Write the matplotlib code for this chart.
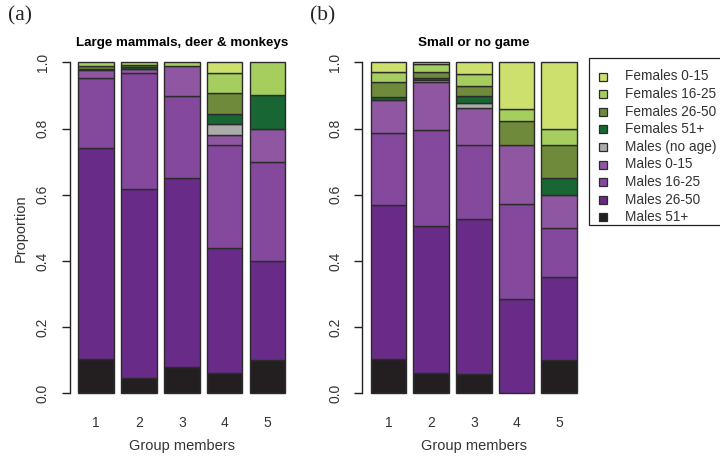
import matplotlib
matplotlib.use("Agg")
import matplotlib.pyplot as plt
from matplotlib.patches import Rectangle
import numpy as np

plt.rcParams['font.family'] = ['Liberation Sans', 'DejaVu Sans']

W, H = 720, 457

group_members = ["1", "2", "3", "4", "5"]

categories = ["Males 51+", "Males 26-50", "Males 16-25", "Males 0-15",
              "Males (no age)", "Females 51+", "Females 26-50",
              "Females 16-25", "Females 0-15"]
colors = ["#231F20", "#682B88", "#84489D", "#8F57A2", "#ABABAB",
          "#186633", "#6F8A3A", "#A6CE5E", "#CDDF6D"]

# (a) Large mammals, deer & monkeys: proportion of hunters per group size
big_m51 = [0.103, 0.045, 0.080, 0.0625, 0.10]
big_m26 = [0.637, 0.573, 0.571, 0.375, 0.30]
big_m16 = [0.212, 0.349, 0.247, 0.3125, 0.30]
big_m0 = [0.026, 0.014, 0.092, 0.03125, 0.10]
big_mna = [0.0, 0.0, 0.0, 0.03125, 0.0]
big_f51 = [0.003, 0.004, 0.0, 0.03125, 0.10]
big_f26 = [0.009, 0.008, 0.0, 0.0625, 0.0]
big_f16 = [0.010, 0.007, 0.010, 0.0625, 0.10]
big_f0 = [0.0, 0.0, 0.0, 0.03125, 0.0]

# (b) Small or no game
small_m51 = [0.105, 0.062, 0.058, 0.0, 0.10]
small_m26 = [0.465, 0.444, 0.469, 0.285, 0.25]
small_m16 = [0.217, 0.289, 0.223, 0.287, 0.15]
small_m0 = [0.099, 0.145, 0.111, 0.178, 0.10]
small_mna = [0.0, 0.006, 0.015, 0.0, 0.0]
small_f51 = [0.010, 0.007, 0.022, 0.0, 0.05]
small_f26 = [0.044, 0.019, 0.030, 0.073, 0.10]
small_f16 = [0.031, 0.022, 0.037, 0.035, 0.05]
small_f0 = [0.029, 0.006, 0.035, 0.142, 0.20]

big_game = [big_m51, big_m26, big_m16, big_m0, big_mna,
            big_f51, big_f26, big_f16, big_f0]
small_game = [small_m51, small_m26, small_m16, small_m0, small_mna,
              small_f51, small_f26, small_f16, small_f0]

fig = plt.figure(figsize=(W / 100, H / 100), dpi=100)


def axes_px(left, top, right, bottom):
    return fig.add_axes([left / W, 1 - bottom / H, (right - left) / W,
                         (bottom - top) / H])


# bar centres as in R barplot with space = 0.2
xpos = 0.2 + 1.2 * np.arange(len(group_members)) + 0.5
edge = "#2b2b2b"
txt = "#333333"


def stacked(ax, series, title):
    bottom = np.zeros(len(group_members))
    for vals, col in zip(series, colors):
        vals = np.asarray(vals, dtype=float)
        mask = vals > 0
        ax.bar(xpos[mask], vals[mask], bottom=bottom[mask], width=1.0,
               color=col, edgecolor=edge, linewidth=1.0, align="center")
        bottom += vals
    ax.set_xlim(0.2 - 0.232, 6.0 + 0.232)
    ax.set_ylim(-0.04, 1.04)
    for s in ["top", "right", "bottom"]:
        ax.spines[s].set_visible(False)
    ax.spines["left"].set_bounds(0, 1)
    ax.spines["left"].set_color("#222222")
    ax.spines["left"].set_linewidth(1.0)
    ax.set_yticks(np.arange(0, 1.01, 0.2))
    ax.set_yticklabels([f"{v:.1f}" for v in np.arange(0, 1.01, 0.2)],
                       rotation=90, va="center", color=txt, fontsize=10)
    ax.tick_params(axis="y", length=5.5, width=1.0, color="#222222", pad=9)
    ax.set_xticks(xpos)
    ax.set_xticklabels(group_members, color=txt, fontsize=10)
    ax.tick_params(axis="x", length=0, pad=6.5)
    ax.set_xlabel("Group members", color=txt, fontsize=10.5, labelpad=6.5)
    ax.set_title(title, fontsize=9.6, fontweight="bold", pad=0)


ax1 = axes_px(70.0, 49.1, 293.6, 406.5)
stacked(ax1, big_game, "Large mammals, deer & monkeys")
ax1.set_ylabel("Proportion", color=txt, fontsize=10.5, labelpad=6)

ax2 = axes_px(362.4, 49.1, 585.3, 406.5)
stacked(ax2, small_game, "Small or no game")

fig.text(8 / W, 1 - 16 / H, "(a)", family="Liberation Serif", fontsize=15.5,
         va="center", ha="left", color="#222222")
fig.text(310 / W, 1 - 16 / H, "(b)", family="Liberation Serif", fontsize=15.5,
         va="center", ha="left", color="#222222")

# legend box, running off the right edge of the figure
lx, ly_top, ly_bot = 589, 58, 225
fig.add_artist(Rectangle((lx / W, 1 - ly_bot / H), (W + 20 - lx) / W,
                         (ly_bot - ly_top) / H, transform=fig.transFigure,
                         facecolor="white", edgecolor="#222222",
                         linewidth=0.9, clip_on=False))
row0, step = 76.5, 17.6
for i, (lab, col) in enumerate(zip(categories[::-1], colors[::-1])):
    yc = row0 + i * step
    s = 8
    fig.add_artist(Rectangle(((603 - s / 2) / W, 1 - (yc + s / 2) / H),
                             s / W, s / H, transform=fig.transFigure,
                             facecolor=col, edgecolor=edge, linewidth=0.9))
    fig.text(625 / W, 1 - yc / H, lab, fontsize=9.8, va="center",
             ha="left", color=txt)

fig.savefig("out.png", dpi=100)
